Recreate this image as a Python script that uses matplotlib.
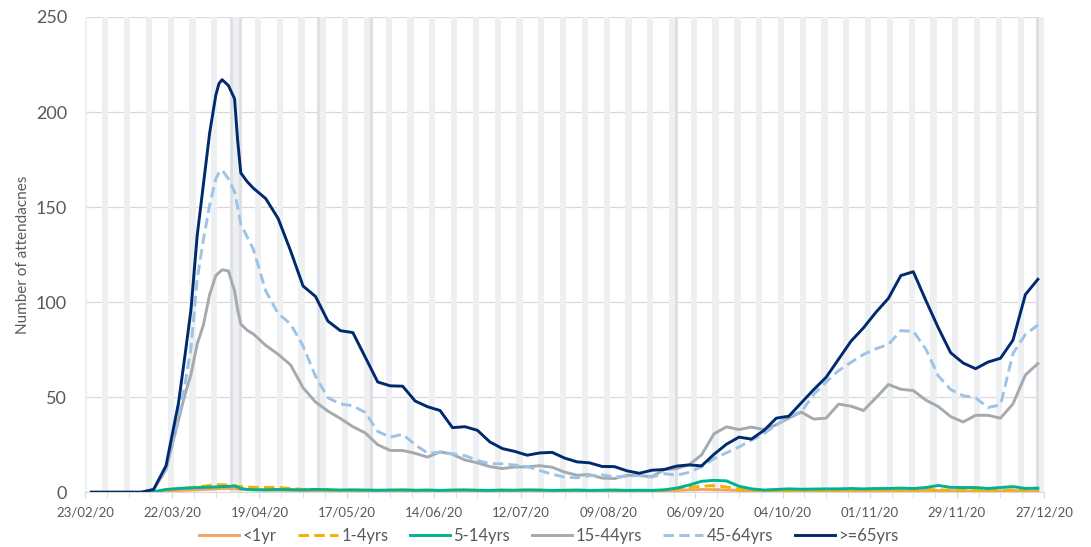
import pandas as pd
import matplotlib.pyplot as plt
import matplotlib.dates as mdates

plt.rcParams['font.family'] = ['Lato', 'DejaVu Sans']

# days after 23/02/20 at which values were read (finer around the spring peak)
start = pd.Timestamp('2020-02-23')
days = [2, 6, 10, 14, 18, 22, 26, 30, 32, 34, 36, 38, 40, 42, 43, 44, 46, 48, 49, 50, 52, 54] + list(range(58, 307, 4))
dates = start + pd.to_timedelta(days, unit='D')

under_1 = [0, 0, 0, 0, 0, 0, 0.5, 1.0, 1.1, 1.2, 1.3, 1.5, 1.6, 1.8, 1.9, 2.0, 2.0, 1.9, 1.7, 1.6, 1.4, 1.3,
           1.2, 1.1, 1.0, 0.9, 0.8, 0.8, 0.7, 0.8, 0.7, 0.6, 0.7, 0.6, 0.7, 0.6, 0.6, 0.7, 0.6, 0.6, 0.5, 0.6,
           0.6, 0.5, 0.6, 0.5, 0.6, 0.5, 0.5, 0.6, 0.5, 0.5, 0.6, 0.5,
           0.7, 1.0, 1.3, 1.5, 1.4, 1.2, 1.0, 0.8, 0.7, 0.7, 0.8, 0.7, 0.8, 0.7, 0.8, 0.8, 0.7, 0.8, 0.9, 0.8,
           0.9, 1.0, 0.9, 0.8, 0.8, 0.7, 0.8, 0.7, 0.9, 0.7, 0.8]
age_1_4 = [0, 0, 0, 0, 0, 0, 1.0, 1.8, 2.2, 2.5, 2.9, 3.2, 3.6, 4.0, 4.0, 4.0, 3.8, 3.5, 3.2, 3.0, 2.8, 2.6,
           2.6, 2.5, 2.0, 1.5, 1.3, 1.0, 0.9, 1.0, 0.8, 0.9, 0.8, 1.0, 0.9, 0.8, 0.8, 0.9, 1.0, 0.8, 0.8, 0.9,
           0.8, 0.9, 0.8, 0.8, 0.9, 0.8, 0.8, 0.9, 0.8, 0.8, 0.9, 0.8,
           1.0, 1.5, 2.5, 3.2, 3.5, 2.8, 1.6, 1.0, 0.9, 0.8, 1.0, 0.9, 1.0, 0.9, 1.0, 1.1, 1.0, 1.0, 1.2, 1.1,
           1.2, 1.5, 1.3, 1.2, 1.1, 1.0, 1.2, 1.0, 1.3, 1.0, 1.1]
age_5_14 = [0, 0, 0, 0, 0, 0.3, 1.5, 2.0, 2.2, 2.3, 2.5, 2.6, 2.7, 2.8, 2.9, 3.0, 3.1, 3.3, 2.8, 2.0, 1.5, 1.4,
            1.3, 1.5, 1.4, 1.3, 1.5, 1.4, 1.2, 1.3, 1.2, 1.1, 1.2, 1.3, 1.1, 1.2, 1.0, 1.2, 1.3, 1.1, 1.0, 1.2,
            1.1, 1.3, 1.2, 1.0, 1.1, 1.2, 1.0, 1.1, 1.2, 1.0, 1.1, 1.0,
            1.3, 2.2, 3.8, 5.8, 6.3, 6.0, 3.2, 1.8, 1.2, 1.5, 1.8, 1.6, 1.7, 1.8, 1.8, 2.0, 1.8, 2.0, 2.0, 2.2,
            2.0, 2.5, 3.6, 2.6, 2.5, 2.5, 2.0, 2.5, 3.0, 2.0, 2.2]
age_15_44 = [0, 0, 0, 0, 0, 1.5, 12, 38, 51, 62, 78, 88, 104, 114, 115.5, 117, 116.5, 106, 96, 88.5, 85.3, 83.3,
             77.3, 72.6, 67, 55, 47.5, 42.7, 38.8, 34.5, 31.2, 25, 22, 22, 20.5, 18.5, 21.3, 20, 17, 15.5, 13.5,
             12.5, 13.3, 13.4, 14, 13.2, 10.6, 9, 9.3, 7.5, 7.2, 8.9, 8.8, 8.2, 11.9, 12.5, 14.5, 19.7, 30.8,
             34.4, 33, 34.3, 33, 35.5, 39, 42.2, 38.5, 39, 46.4, 45.3, 43, 49.7, 56.7, 54.2, 53.5, 48.5, 45.1,
             39.8, 37, 40.5, 40.5, 39, 46.5, 61.7, 67.7]
age_45_64 = [0, 0, 0, 0, 0, 1.5, 12, 40, 56, 76, 112, 133, 151, 165, 168, 169.5, 165, 158, 150, 141, 134.5, 128,
             106, 94, 88.5, 77, 61, 49.7, 46.5, 45.5, 42, 32, 29, 30.5, 25, 20.6, 21, 20.3, 19.3, 16.8, 15, 15,
             14.3, 13.5, 11.5, 9.5, 8, 7.6, 8.7, 9.2, 8.1, 8.5, 8.8, 8, 9.8, 9, 10.5, 13.5, 17.7, 20.8, 23.8,
             27.4, 30.8, 35.5, 40, 42.2, 51.5, 58, 64, 68.4, 72.5, 75.5, 77.8, 85, 84.7, 75.4, 61.3, 54, 50.8,
             49.7, 44.6, 46, 73, 83, 88]
age_65_plus = [0, 0, 0, 0, 0, 1.5, 14, 47, 71, 96, 135, 162, 189, 209, 215, 217, 214, 207, 185, 168, 163.5, 160,
               154.5, 144, 127, 108.5, 103, 90, 85, 84, 71, 58, 56, 55.8, 48, 45, 43, 34, 34.5, 32.6, 26.5, 23,
               21.5, 19.5, 20.7, 21, 18, 16, 15.5, 13.6, 13.5, 11.3, 10, 11.6, 12, 13.8, 14.4, 13.9, 20, 25.3,
               29, 28, 32.5, 39, 40, 47, 54, 60.5, 70, 79.5, 86.5, 94.7, 102, 114, 116, 101, 86.6, 73.4, 68, 65,
               68.5, 70.5, 80, 104, 112]

bank_holidays = pd.to_datetime(['2020-04-10', '2020-04-13', '2020-05-08', '2020-05-25',
                                '2020-08-31', '2020-12-25', '2020-12-28'])

# weekend / bank holiday shading
all_days = pd.date_range(start, '2020-12-27')
weekends = all_days[all_days.dayofweek >= 5]

fig, ax = plt.subplots(figsize=(10.91, 5.47), dpi=100)
fig.subplots_adjust(left=0.078, right=0.957, top=0.969, bottom=0.1)

ax.bar(weekends, 250, width=1.0, color='#EDEFF1', zorder=1)
ax.bar(bank_holidays, 250, width=1.0, color='#DDE0E4', zorder=1)

series = [
    ('<1yr', under_1, '#F6A35E', '-'),
    ('1-4yrs', age_1_4, '#F2B300', '--'),
    ('5-14yrs', age_5_14, '#00B294', '-'),
    ('15-44yrs', age_15_44, '#A5AAAF', '-'),
    ('45-64yrs', age_45_64, '#9DC3E6', '--'),
    ('>=65yrs', age_65_plus, '#002A6E', '-'),
]
for name, vals, col, ls in series:
    line, = ax.plot(dates, vals, color=col, lw=2.1, ls=ls, label=name, zorder=3)
    if ls == '--':
        line.set_dashes((3.6, 1.8))

ax.set_xlim(start, pd.Timestamp('2020-12-27'))
ax.set_ylim(0, 250)
ax.set_yticks(range(0, 251, 50))
ax.yaxis.grid(True, color='#D9D9D9', lw=0.9, zorder=0)
ax.set_axisbelow(True)

ax.set_xticks(pd.date_range(start, '2020-12-27', freq='28D'))
ax.xaxis.set_major_formatter(mdates.DateFormatter('%d/%m/%y'))
ax.set_xticks(pd.date_range(start, '2020-12-27', freq='7D'), minor=True)

for s in ['top', 'right', 'left']:
    ax.spines[s].set_visible(False)
ax.spines['bottom'].set_color('#D9D9D9')
ax.tick_params(axis='y', length=0, labelsize=13, labelcolor='#595959', pad=13)
ax.tick_params(axis='x', which='both', length=4, color='#D9D9D9', labelsize=9.5, labelcolor='#595959', pad=6.5)

ax.set_ylabel('Number of attendacnes', fontsize=11, color='#595959', labelpad=4)

fig.legend(loc='lower center', bbox_to_anchor=(0.503, -0.022), ncol=6, frameon=False,
           fontsize=12, handlelength=2.4, columnspacing=1.3, handletextpad=0.2, labelcolor='#595959')

fig.savefig('out.png', dpi=100)
